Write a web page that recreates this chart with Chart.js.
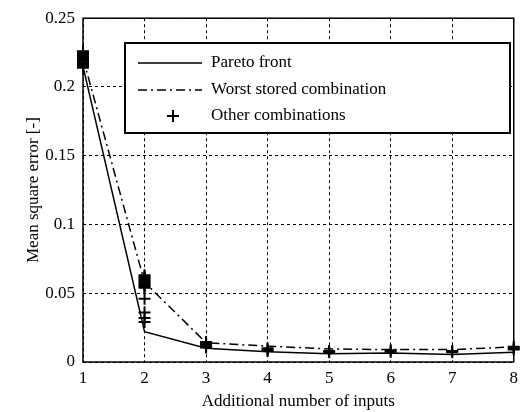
<!DOCTYPE html>
<html>
<head>
<meta charset="utf-8">
<script src="https://cdn.jsdelivr.net/npm/chart.js@4/dist/chart.umd.min.js"></script>
<style>
  html, body { margin: 0; padding: 0; background: #fff; }
  #wrap { width: 524px; height: 412px; }
</style>
</head>
<body>
<div id="wrap"><canvas id="mseChart" width="524" height="412"></canvas></div>
<script>
// Data
const inputs = [1, 2, 3, 4, 5, 6, 7, 8];
const paretoFront = [0.215, 0.022, 0.010, 0.0075, 0.006, 0.0065, 0.0055, 0.007];
const worstStored = [0.221, 0.058, 0.014, 0.0115, 0.0095, 0.009, 0.009, 0.011];

// other combinations, one x per y
const otherX = [1, 1, 1, 1, 1, 1, 1, 1, 1, 1, 1, 1, 1,
                2, 2, 2, 2, 2, 2, 2, 2, 2, 2, 2, 2, 2, 2,
                3, 3, 3, 3, 3,
                4, 4, 4,
                5, 5,
                6, 6,
                7, 7,
                8, 8, 8];
const otherY = [0.214, 0.215, 0.216, 0.217, 0.218, 0.219, 0.220, 0.221, 0.222, 0.223, 0.224, 0.225, 0.226,
                0.054, 0.055, 0.056, 0.057, 0.058, 0.059, 0.060, 0.061, 0.062, 0.063, 0.046, 0.036, 0.032, 0.029,
                0.0105, 0.0115, 0.0125, 0.0135, 0.0145,
                0.008, 0.009, 0.010,
                0.007, 0.008,
                0.0075, 0.0085,
                0.007, 0.008,
                0.009, 0.010, 0.011];

const xTicks = [1, 2, 3, 4, 5, 6, 7, 8];
const yTicks = [0, 0.05, 0.1, 0.15, 0.2, 0.25];

const FONT = 'Liberation Serif, Times New Roman, serif';
const DASH_DOT = [9, 4, 2, 4];

// box around the plot area + legend drawn like the matlab one
const boxAndLegend = {
  id: 'boxAndLegend',
  afterDraw(chart) {
    const ctx = chart.ctx;
    const a = chart.chartArea;
    ctx.save();
    ctx.strokeStyle = '#000';
    ctx.lineWidth = 1.5;
    ctx.setLineDash([]);
    ctx.strokeRect(a.left, a.top, a.right - a.left, a.bottom - a.top);

    // legend box
    const lx = 125, ly = 43, lw = 385, lh = 90;
    ctx.fillStyle = '#fff';
    ctx.fillRect(lx, ly, lw, lh);
    ctx.lineWidth = 2;
    ctx.strokeRect(lx, ly, lw, lh);

    const rows = [63, 90, 116];
    const ds = chart.data.datasets;
    ctx.font = '17px ' + FONT;
    ctx.fillStyle = '#000';
    ctx.textBaseline = 'middle';
    ctx.textAlign = 'left';
    ds.forEach((d, i) => {
      const y = rows[i];
      ctx.lineWidth = 1.5;
      if (d.showLine) {
        ctx.setLineDash(d.borderDash || []);
        ctx.beginPath();
        ctx.moveTo(138, y);
        ctx.lineTo(202, y);
        ctx.stroke();
        ctx.setLineDash([]);
      } else {
        ctx.lineWidth = 2;
        ctx.beginPath();
        ctx.moveTo(167, y);
        ctx.lineTo(179, y);
        ctx.moveTo(173, y - 6);
        ctx.lineTo(173, y + 6);
        ctx.stroke();
      }
      ctx.fillText(d.label, 211, y);
    });
    ctx.restore();
  }
};

const ctx = document.getElementById('mseChart').getContext('2d');
new Chart(ctx, {
  type: 'scatter',
  data: {
    datasets: [
      {
        label: 'Pareto front',
        data: inputs.map((x, i) => ({ x: x, y: paretoFront[i] })),
        showLine: true,
        borderColor: '#000',
        borderWidth: 1.5,
        pointRadius: 0,
        borderDash: []
      },
      {
        label: 'Worst stored combination',
        data: inputs.map((x, i) => ({ x: x, y: worstStored[i] })),
        showLine: true,
        borderColor: '#000',
        borderWidth: 1.5,
        pointRadius: 0,
        borderDash: DASH_DOT
      },
      {
        label: 'Other combinations',
        data: otherX.map((x, i) => ({ x: x, y: otherY[i] })),
        showLine: false,
        pointStyle: 'cross',
        pointRadius: 6,
        pointBorderWidth: 2,
        borderColor: '#000',
        backgroundColor: '#000',
        clip: 10
      }
    ]
  },
  options: {
    responsive: false,
    animation: false,
    layout: { padding: { top: 16.5, right: 4, left: 0, bottom: 0 } },
    plugins: {
      legend: { display: false },
      tooltip: { enabled: false }
    },
    scales: {
      x: {
        type: 'linear',
        min: 1,
        max: 8,
        afterBuildTicks: (s) => { s.ticks = xTicks.map(v => ({ value: v })); },
        afterFit: (s) => { s.height = 50; },
        ticks: {
          color: '#000',
          font: { family: FONT, size: 17 },
          padding: 6,
          maxRotation: 0
        },
        grid: { color: '#000', lineWidth: 1, drawTicks: false },
        border: { display: false, dash: [3, 3] },
        title: {
          display: true,
          text: 'Additional number of inputs',
          color: '#000',
          font: { family: FONT, size: 17 },
          padding: { top: 0, bottom: 0 }
        }
      },
      y: {
        type: 'linear',
        min: 0,
        max: 0.25,
        afterBuildTicks: (s) => { s.ticks = yTicks.map(v => ({ value: v })); },
        afterFit: (s) => { s.width = 83; },
        ticks: {
          color: '#000',
          font: { family: FONT, size: 17 },
          padding: 8,
          callback: (v) => String(v)
        },
        grid: { color: '#000', lineWidth: 1, drawTicks: false },
        border: { display: false, dash: [3, 3] },
        title: {
          display: true,
          text: 'Mean square error [-]',
          color: '#000',
          font: { family: FONT, size: 17 },
          padding: { top: 23, bottom: 23 }
        }
      }
    }
  },
  plugins: [boxAndLegend]
});
</script>
</body>
</html>
